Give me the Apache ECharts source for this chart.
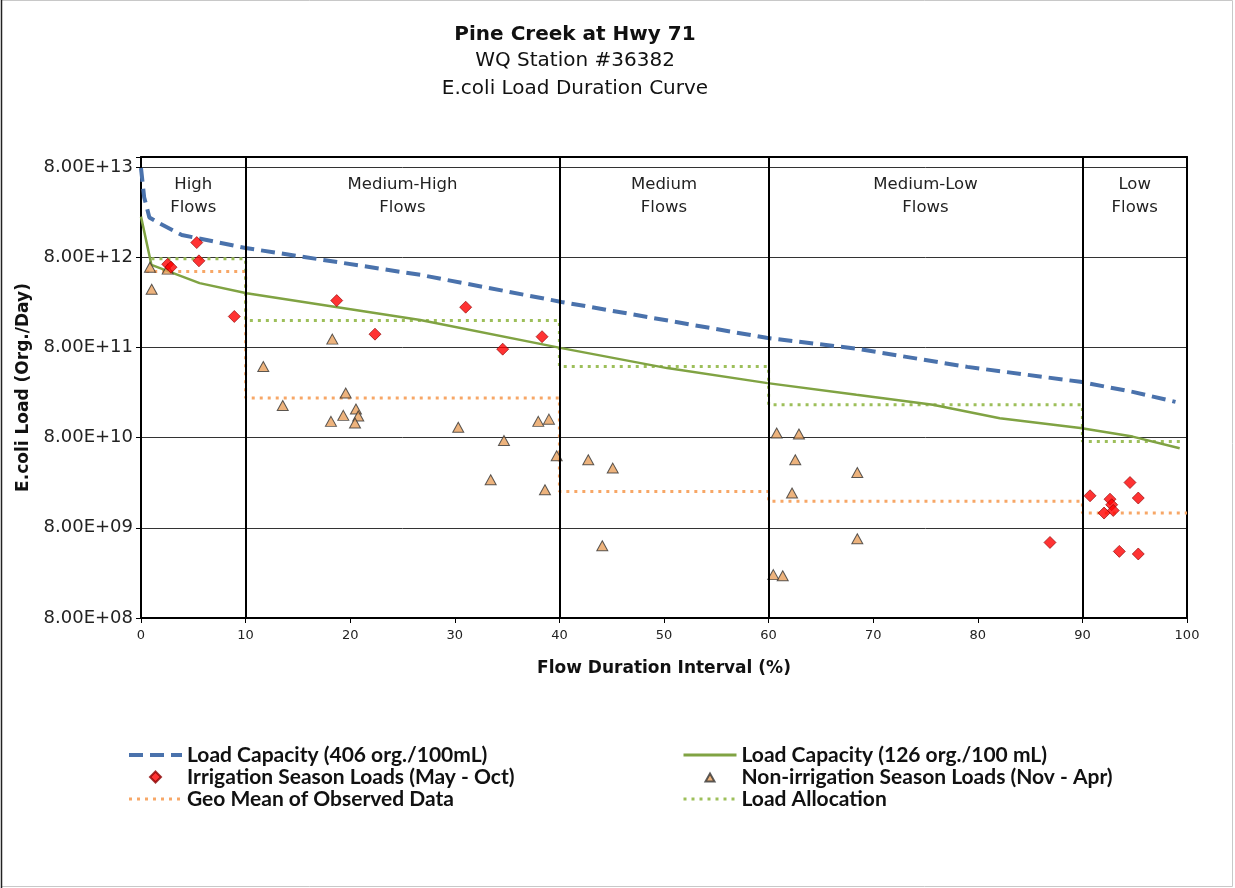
<!DOCTYPE html>
<html>
<head>
<meta charset="utf-8">
<script src="https://cdn.jsdelivr.net/npm/echarts@6/dist/echarts.min.js"></script>
<style>
html,body{margin:0;padding:0;background:#fff;}
#main{width:1235px;height:888px;}
</style>
</head>
<body>
<div id="main"></div>
<script>
// ---- Data ----
const yTickLabels = ['8.00E+08','8.00E+09','8.00E+10','8.00E+11','8.00E+12','8.00E+13'];
const yBase = 8e8;

const regionBounds = [0, 10, 40, 60, 90, 100];
const regionNames = ['High\nFlows', 'Medium-High\nFlows', 'Medium\nFlows', 'Medium-Low\nFlows', 'Low\nFlows'];

const cap406X = [0, 0.3, 0.8, 1.5, 3.9, 10, 26.7, 40.2, 59.8, 68.5, 79, 89.8, 94.8, 98.9];
const cap406V = [7.8e13, 3.7e13, 2.2e13, 1.97e13, 1.41e13, 1.01e13, 5.09e12, 2.55e12, 1.02e12, 7.7e11, 4.86e11, 3.32e11, 2.57e11, 1.99e11];

const cap126X = [0, 1.0, 5.6, 10.1, 26.7, 40.2, 50.3, 59.9, 68.4, 75.7, 82.1, 89.8, 94.8, 99.3];
const cap126V = [2.25e13, 6.56e12, 4.12e12, 3.19e12, 1.61e12, 7.84e11, 4.71e11, 3.21e11, 2.38e11, 1.85e11, 1.31e11, 1.02e11, 8.2e10, 6.1e10];

const irrX = [5.33, 5.54, 2.55, 2.87, 8.92, 18.71, 22.37, 31.04, 34.58, 38.34, 86.9, 90.73, 92.64, 92.8, 92.95, 92.07, 94.55, 95.34, 93.53, 95.34];
const irrV = [1.16e13, 7.28e12, 6.68e12, 6.19e12, 1.76e12, 2.64e12, 1.12e12, 2.23e12, 7.64e11, 1.05e12, 5.5e9, 1.81e10, 1.66e10, 1.44e10, 1.245e10, 1.165e10, 2.54e10, 1.71e10, 4.38e9, 4.1e9];

const nonX = [0.86, 1.02, 2.55, 11.69, 13.55, 18.29, 19.57, 19.34, 18.16, 20.55, 20.77, 20.46, 30.33, 33.43, 34.70, 37.98, 39.0, 38.62, 39.74, 42.76, 45.1, 44.1, 60.77, 62.9, 62.55, 62.24, 60.45, 61.35, 68.48, 68.48];
const nonV = [6.19e12, 3.53e12, 5.89e12, 4.91e11, 1.81e11, 9.87e11, 2.49e11, 1.41e11, 1.21e11, 1.66e11, 1.39e11, 1.16e11, 1.04e11, 2.72e10, 7.43e10, 1.21e11, 1.28e11, 2.11e10, 5.02e10, 4.54e10, 3.67e10, 5.06e9, 8.97e10, 8.75e10, 4.54e10, 1.94e10, 2.42e9, 2.35e9, 3.28e10, 6.05e9];

const geoMeanX = [0.5, 10, 40, 60, 90, 100];
const geoMeanV = [5.53e12, 2.19e11, 2.02e10, 1.57e10, 1.165e10];

const allocX = [1, 10, 40, 60, 90, 99.5];
const allocV = [7.66e12, 1.59e12, 4.9e11, 1.85e11, 7.24e10];

const names = {
  cap406: 'Load Capacity (406 org./100mL)',
  cap126: 'Load Capacity (126 org./100 mL)',
  irr: 'Irrigation Season Loads (May - Oct)',
  non: 'Non-irrigation Season Loads (Nov - Apr)',
  geo: 'Geo Mean of Observed Data',
  alloc: 'Load Allocation'
};

// ---- Helpers ----
const toY = v => Math.log10(v / yBase);
const pairs = (xs, vs) => xs.map((x, i) => [x, toY(vs[i])]);
const steps = (xs, vs) => {
  const out = [];
  vs.forEach((v, i) => { out.push([xs[i], toY(v)]); out.push([xs[i + 1], toY(v)]); });
  return out;
};

const FONT = "'DejaVu Sans', 'Liberation Sans', Arial, sans-serif";
const LEGFONT = "Lato, 'Liberation Sans', sans-serif";

const chart = echarts.init(document.getElementById('main'), null, {renderer: 'canvas'});

const dividerData = regionBounds.slice(1, -1).map(b => ({xAxis: b}));
const areaData = regionNames.map((n, i) => [
  {xAxis: regionBounds[i], name: n},
  {xAxis: regionBounds[i + 1]}
]);

// legend icons: the path's bounding box spans the whole 53x11 legend slot so the marker keeps its shape
const diamondIcon = 'path://M0,0M53,11M26.5,0L32,5.5L26.5,11L21,5.5Z';
const triangleIcon = 'path://M0,0M53,11M26.5,2L31,10L22,10Z';
const lineItem = (n, w) => ({name: n, itemStyle: {opacity: 0}, lineStyle: {width: w}});
const legendText = {fontFamily: LEGFONT, fontWeight: 'bold', fontSize: 21, lineHeight: 22, color: '#111'};

const option = {
  backgroundColor: '#fff',
  animation: false,
  title: [
    {text: 'Pine Creek at Hwy 71', left: 575, top: 25, textAlign: 'center', padding: 0,
     textStyle: {fontFamily: FONT, fontSize: 20, fontWeight: 'bold', color: '#111'}},
    {text: 'WQ Station #36382', left: 575, top: 51, textAlign: 'center', padding: 0,
     textStyle: {fontFamily: FONT, fontSize: 20, fontWeight: 'normal', color: '#111'}},
    {text: 'E.coli Load Duration Curve', left: 575, top: 79, textAlign: 'center', padding: 0,
     textStyle: {fontFamily: FONT, fontSize: 20, fontWeight: 'normal', color: '#111'}}
  ],
  graphic: [
    {type: 'rect', silent: true, z: -10,
     shape: {x: 1.5, y: 0.5, width: 1231, height: 886},
     style: {fill: 'none', stroke: '#c8c8c8', lineWidth: 1}},
    {type: 'line', silent: true, z: -9,
     shape: {x1: 1.5, y1: 0, x2: 1.5, y2: 888},
     style: {stroke: '#222', lineWidth: 1.5}}
  ],
  legend: [
    {orient: 'vertical', left: 127, top: 744, itemWidth: 53, itemHeight: 11, itemGap: 0, padding: 0,
     symbolKeepAspect: true,
     data: [lineItem(names.cap406, 4), {name: names.irr, icon: diamondIcon}, lineItem(names.geo, 3)],
     textStyle: legendText},
    {orient: 'vertical', left: 682, top: 744, itemWidth: 53, itemHeight: 11, itemGap: 0, padding: 0,
     symbolKeepAspect: true,
     data: [lineItem(names.cap126, 3), {name: names.non, icon: triangleIcon}, lineItem(names.alloc, 3)],
     textStyle: legendText}
  ],
  grid: {left: 141, right: 48, top: 157, bottom: 270, containLabel: false},
  xAxis: [
    {type: 'value', min: 0, max: 100, interval: 10,
     axisLine: {show: true, onZero: false, lineStyle: {color: '#000', width: 2}},
     axisTick: {show: true, inside: false, length: 5, lineStyle: {color: '#000', width: 1}},
     axisLabel: {fontFamily: FONT, fontSize: 13, color: '#222', margin: 11},
     splitLine: {show: false},
     name: 'Flow Duration Interval (%)', nameLocation: 'middle', nameGap: 42,
     nameTextStyle: {fontFamily: FONT, fontSize: 17, fontWeight: 'bold', color: '#111'}},
    {type: 'value', position: 'top', min: 0, max: 100,
     axisLine: {show: true, onZero: false, lineStyle: {color: '#000', width: 2}},
     axisTick: {show: false}, axisLabel: {show: false}, splitLine: {show: false}}
  ],
  yAxis: [
    {type: 'value', min: 0, max: 5.11, interval: 1,
     axisLine: {show: true, onZero: false, lineStyle: {color: '#000', width: 2}},
     axisTick: {show: true, inside: false, length: 5, lineStyle: {color: '#000', width: 1}},
     axisLabel: {fontFamily: FONT, fontSize: 18, color: '#222', margin: 8,
       formatter: v => (Math.abs(v - Math.round(v)) < 1e-6 && yTickLabels[Math.round(v)]) ? yTickLabels[Math.round(v)] : ''},
     splitLine: {show: true, lineStyle: {color: '#333', width: 1}},
     name: 'E.coli Load (Org./Day)', nameLocation: 'middle', nameGap: 109, nameRotate: 90,
     nameTextStyle: {fontFamily: FONT, fontSize: 17, fontWeight: 'bold', color: '#111'}},
    {type: 'value', position: 'right', min: 0, max: 5.11,
     axisLine: {show: true, onZero: false, lineStyle: {color: '#000', width: 2}},
     axisTick: {show: false}, axisLabel: {show: false}, splitLine: {show: false}}
  ],
  series: [
    {name: names.geo, type: 'line', data: steps(geoMeanX, geoMeanV), symbol: 'none', z: 2,
     lineStyle: {color: '#F7A767', width: 3, type: [3, 5], cap: 'butt'},
     itemStyle: {color: '#F7A767'}},
    {name: names.alloc, type: 'line', data: steps(allocX, allocV), symbol: 'none', z: 2,
     lineStyle: {color: '#9DBF5A', width: 3, type: [3, 5], cap: 'butt'},
     itemStyle: {color: '#9DBF5A'}},
    {name: names.cap126, type: 'line', data: pairs(cap126X, cap126V), symbol: 'none', z: 3,
     lineStyle: {color: '#80A343', width: 2.5},
     itemStyle: {color: '#80A343'}},
    {name: names.cap406, type: 'line', data: pairs(cap406X, cap406V), symbol: 'none', z: 3,
     lineStyle: {color: '#4A72AC', width: 4, type: [14, 7]},
     itemStyle: {color: '#4A72AC'},
     markLine: {silent: true, symbol: 'none', label: {show: false},
       lineStyle: {color: '#000', width: 2, type: 'solid'}, data: dividerData},
     markArea: {silent: true, itemStyle: {color: 'rgba(0,0,0,0)'},
       label: {show: true, position: 'insideTop', distance: 16, fontFamily: FONT, fontSize: 16.5,
         lineHeight: 23, color: '#222', align: 'center'},
       data: areaData}},
    {name: names.irr, type: 'scatter', data: pairs(irrX, irrV), symbol: 'diamond', symbolSize: 12, z: 5,
     itemStyle: {color: '#FF0000', borderColor: '#8B0000', borderWidth: 0.8}},
    {name: names.non, type: 'scatter', data: pairs(nonX, nonV), symbol: 'triangle', symbolSize: [11, 10], z: 4,
     itemStyle: {color: '#E9A05C', borderColor: '#333', borderWidth: 1}}
  ]
};
chart.setOption(option);
</script>
</body>
</html>
